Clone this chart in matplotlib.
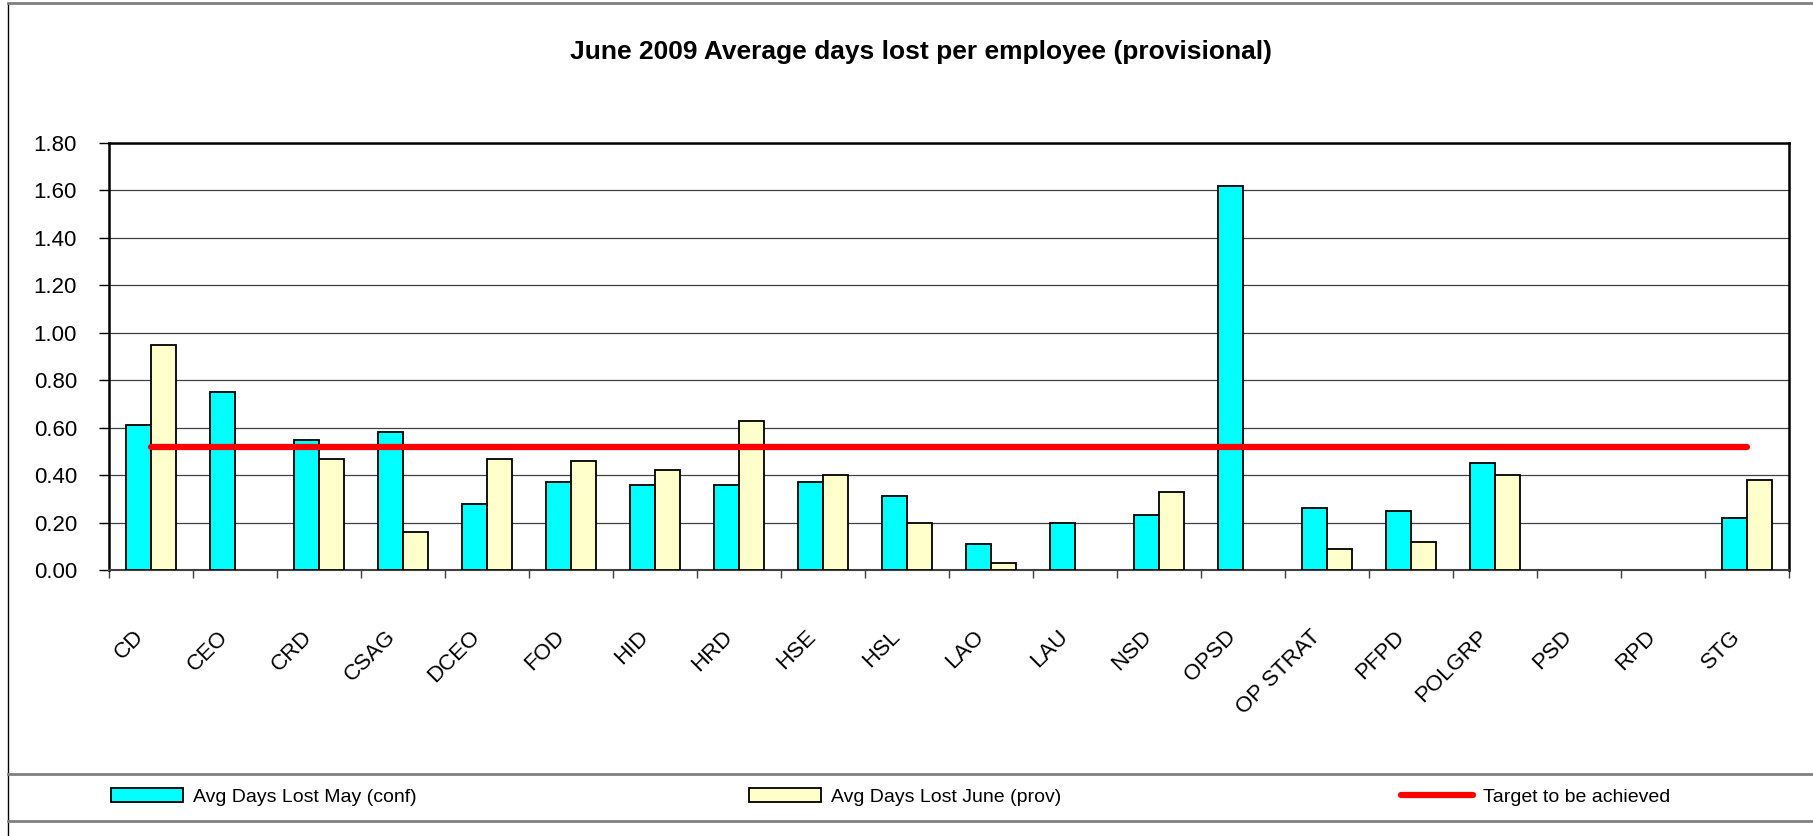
import matplotlib
matplotlib.use('Agg')
import matplotlib.pyplot as plt
import matplotlib.transforms as mtransforms
from matplotlib.lines import Line2D
import numpy as np

# data
depts = ['CD', 'CEO', 'CRD', 'CSAG', 'DCEO', 'FOD', 'HID', 'HRD', 'HSE', 'HSL',
         'LAO', 'LAU', 'NSD', 'OPSD', 'OP STRAT', 'PFPD', 'POLGRP', 'PSD', 'RPD', 'STG']
may_conf = [0.61, 0.75, 0.55, 0.58, 0.28, 0.37, 0.36, 0.36, 0.37, 0.31,
            0.11, 0.20, 0.23, 1.62, 0.26, 0.25, 0.45, 0, 0, 0.22]
june_prov = [0.95, 0, 0.47, 0.16, 0.47, 0.46, 0.42, 0.63, 0.40, 0.20,
             0.03, 0, 0.33, 0, 0.09, 0.12, 0.40, 0, 0, 0.38]
target = 0.52
y_ticks = [0.0, 0.2, 0.4, 0.6, 0.8, 1.0, 1.2, 1.4, 1.6, 1.8]

CYAN = '#00FFFF'
CREAM = '#FFFFCC'
FONT = 'Liberation Sans'

plt.rcParams['font.family'] = FONT

W, H = 1813, 836
fig = plt.figure(figsize=(W / 100, H / 100), dpi=100, facecolor='white')
ax = fig.add_axes([109 / W, 1 - 570 / H, (1789 - 109) / W, (570 - 143) / H])

x = np.arange(len(depts))
bw = 0.3
# skip zero-height bars (no data)
may_x = [xi for xi, v in zip(x, may_conf) if v > 0]
may_v = [v for v in may_conf if v > 0]
jun_x = [xi for xi, v in zip(x, june_prov) if v > 0]
jun_v = [v for v in june_prov if v > 0]

b1 = ax.bar(np.array(may_x) - bw / 2, may_v, width=bw, color=CYAN,
            edgecolor='black', linewidth=1.3, zorder=3)
b2 = ax.bar(np.array(jun_x) + bw / 2, jun_v, width=bw, color=CREAM,
            edgecolor='black', linewidth=1.3, zorder=3)
ln, = ax.plot([x[0], x[-1]], [target, target], color='red', lw=4.5,
              solid_capstyle='round', zorder=4)

ax.set_xlim(-0.5, len(depts) - 0.5)
ax.set_ylim(0, 1.8)
ax.set_yticks(y_ticks)
ax.set_yticklabels(['%.2f' % v for v in y_ticks], fontsize=16)
ax.yaxis.grid(True, color='#404040', lw=0.9)
ax.set_axisbelow(True)

ax.set_xticks(x)
ax.set_xticks(np.arange(-0.5, len(depts)), minor=True)
ax.set_xticklabels(depts, fontsize=16, rotation=45, ha='right', va='center',
                   rotation_mode='anchor')
ax.tick_params(axis='x', which='major', length=0, pad=46)
ax.tick_params(axis='x', which='minor', length=6, width=1, color='#404040', direction='out')
ax.tick_params(axis='y', length=7, width=1, direction='out', pad=16)

shift = mtransforms.ScaledTranslation(-10 / 100, 0, fig.dpi_scale_trans)
for lab in ax.get_xticklabels():
    lab.set_transform(lab.get_transform() + shift)

for side in ['left', 'right', 'top']:
    ax.spines[side].set_color('black')
    ax.spines[side].set_linewidth(1.8)
ax.spines['bottom'].set_color('#404040')
ax.spines['bottom'].set_linewidth(1.5)

fig.text(921 / W, 1 - 52 / H, 'June 2009 Average days lost per employee (provisional)',
         fontsize=19, fontweight='bold', ha='center', va='center')

# legend, one entry at a time so the spacing matches
entries = [(b1, 'Avg Days Lost May (conf)', 111),
           (b2, 'Avg Days Lost June (prov)', 749),
           (ln, 'Target to be achieved', 1401)]
for handle, text, left in entries:
    fig.legend([handle], [text], loc='center left', bbox_to_anchor=(left / W, 1 - 797 / H),
               frameon=False, fontsize=14, borderpad=0, borderaxespad=0,
               handlelength=3.7, handleheight=0.7, handletextpad=0.5)

# outer frame and legend box lines
fig.add_artist(Line2D([8 / W, 8 / W], [0, 1 - 3 / H], color='black', lw=1))
fig.add_artist(Line2D([8 / W, 1], [1 - 3 / H, 1 - 3 / H], color='#808080', lw=2))
fig.add_artist(Line2D([8 / W, 1], [1 - 774 / H, 1 - 774 / H], color='#808080', lw=2))
fig.add_artist(Line2D([8 / W, 1], [1 - 821 / H, 1 - 821 / H], color='#808080', lw=2))

fig.savefig('out.png', dpi=100, facecolor='white')
